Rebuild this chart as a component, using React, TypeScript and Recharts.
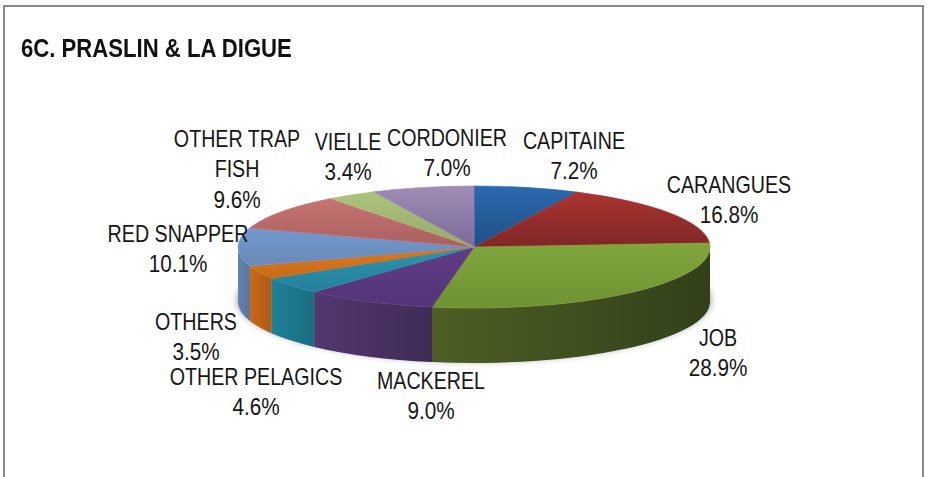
import React from 'react';
import { PieChart, Pie, Cell } from 'recharts';

const title = '6C. PRASLIN & LA DIGUE';
const categories = ['CAPITAINE', 'CARANGUES', 'JOB', 'MACKEREL', 'OTHER PELAGICS', 'OTHERS', 'RED SNAPPER', 'OTHER TRAP FISH', 'VIELLE', 'CORDONIER'];
const values = [7.2, 16.8, 28.9, 9.0, 4.6, 3.5, 10.1, 9.6, 3.4, 7.0];
const labelLines = [['CAPITAINE'], ['CARANGUES'], ['JOB'], ['MACKEREL'], ['OTHER PELAGICS'], ['OTHERS'], ['RED SNAPPER'], ['OTHER TRAP', 'FISH'], ['VIELLE'], ['CORDONIER']];

const topLight = ['#2b69ad', '#ab3431', '#80a63c', '#5f3d86', '#2f93ab', '#d9771e', '#7199cf', '#c67472', '#acc47d', '#a08cb6'];
const topDark = ['#1f4f88', '#7f2725', '#6f9232', '#533477', '#24809a', '#c96c18', '#6a89b6', '#a9605f', '#93aa68', '#7a6b98'];
const wallLight = ['#2b5a92', '#8a2a28', '#4d5f24', '#52386f', '#1f8199', '#c9691a', '#6384b0', '#a85f5e', '#8ea565', '#7c6a95'];
const wallDark = ['#1f4470', '#6a2120', '#32401a', '#3f2b57', '#1a6c82', '#b05a14', '#56739b', '#8e5050', '#7a8f56', '#685a80'];

const labelX = [574, 729, 718, 431, 256, 196, 178, 237, 348, 447];
const labelY = [141, 185, 338, 381, 377, 322, 234, 139, 142, 138];

const CX = 474;
const CY = 247;
const RX = 236;
const TILT = 61 / 236;
const DEPTH = 55;
const LINE = 30.5;
const NAME_SCALE = 0.855;
const PCT_SCALE = 0.9;
const FONT = '"Liberation Sans", Arial, sans-serif';

const rows = categories.map((name, i) => ({ name, value: values[i] }));

function EllipseSlice(props: any) {
  const { cx, cy, outerRadius, startAngle, endAngle, index } = props;
  const rx = outerRadius;
  const ry = outerRadius * TILT;
  const pt = (deg: number, dy = 0) => {
    const r = (deg * Math.PI) / 180;
    return `${cx + rx * Math.cos(r)} ${cy - ry * Math.sin(r) + dy}`;
  };
  const hi = Math.max(startAngle, endAngle);
  const lo = Math.min(startAngle, endAngle);
  const large = hi - lo > 180 ? 1 : 0;
  const top = `M ${cx} ${cy} L ${pt(hi)} A ${rx} ${ry} 0 ${large} 1 ${pt(lo)} Z`;
  const wHi = Math.min(hi, 0);
  const wLo = Math.max(lo, -180);
  const hasWall = wHi > wLo;
  const wall = `M ${pt(wHi)} A ${rx} ${ry} 0 0 1 ${pt(wLo)} L ${pt(wLo, DEPTH)} A ${rx} ${ry} 0 0 0 ${pt(wHi, DEPTH)} Z`;
  const i = index ?? 0;
  return (
    <g>
      <defs>
        <linearGradient id={`top${i}`} x1="0" y1="0" x2="0" y2="1">
          <stop offset="0" stopColor={topLight[i]} />
          <stop offset="1" stopColor={topDark[i]} />
        </linearGradient>
        <linearGradient id={`wall${i}`} x1="0" y1="0" x2="1" y2="0">
          <stop offset="0" stopColor={wallLight[i]} />
          <stop offset="1" stopColor={wallDark[i]} />
        </linearGradient>
        <filter id="soft" x="-10%" y="-30%" width="120%" height="160%">
          <feGaussianBlur stdDeviation="3" />
        </filter>
      </defs>
      {i === 0 && (
        <ellipse cx={cx} cy={cy + DEPTH - 2} rx={rx + 2} ry={ry + 1} fill="#000" opacity={0.3} filter="url(#soft)" />
      )}
      {hasWall && <path d={wall} fill={`url(#wall${i})`} />}
      <path d={top} fill={`url(#top${i})`} stroke={topLight[i]} strokeWidth={0.6} />
    </g>
  );
}

function renderLabel(props: any) {
  const i = props.index;
  const names = labelLines[i];
  const pct = `${values[i].toFixed(1)}%`;
  const common = { textAnchor: 'middle' as const, dominantBaseline: 'central' as const, fill: '#151515', fontFamily: FONT, fontSize: 23 };
  return (
    <g key={i}>
      {names.map((l, k) => (
        <text key={k} {...common} transform={`translate(${labelX[i]} ${labelY[i] + k * LINE}) scale(${NAME_SCALE} 1)`}>{l}</text>
      ))}
      <text {...common} transform={`translate(${labelX[i]} ${labelY[i] + names.length * LINE}) scale(${PCT_SCALE} 1)`}>{pct}</text>
    </g>
  );
}

export default function App() {
  return (
    <div style={{ position: 'absolute', left: 0, top: 0, width: 927, height: 477, background: '#fff', overflow: 'hidden' }}>
      <div style={{ position: 'absolute', left: 3, top: 5, width: 921, height: 480, border: '2px solid #8a8a8a', boxSizing: 'border-box' }} />
      <div style={{ position: 'absolute', left: 21, top: 33, fontFamily: FONT, fontWeight: 700, fontSize: 25, lineHeight: '30px', color: '#111', whiteSpace: 'nowrap', transform: 'scaleX(0.885)', transformOrigin: 'left center' }}>{title}</div>
      <div style={{ position: 'absolute', left: 0, top: 0 }}>
        <PieChart width={927} height={477} margin={{ top: 0, right: 0, bottom: 0, left: 0 }}>
          <Pie
            data={rows}
            dataKey="value"
            nameKey="name"
            cx={CX}
            cy={CY}
            innerRadius={0}
            outerRadius={RX}
            startAngle={90}
            endAngle={-270}
            paddingAngle={0}
            stroke="none"
            isAnimationActive={false}
            shape={EllipseSlice}
            label={renderLabel}
            labelLine={false}
          >
            {rows.map((r, i) => <Cell key={r.name} fill={topLight[i]} />)}
          </Pie>
        </PieChart>
      </div>
    </div>
  );
}
